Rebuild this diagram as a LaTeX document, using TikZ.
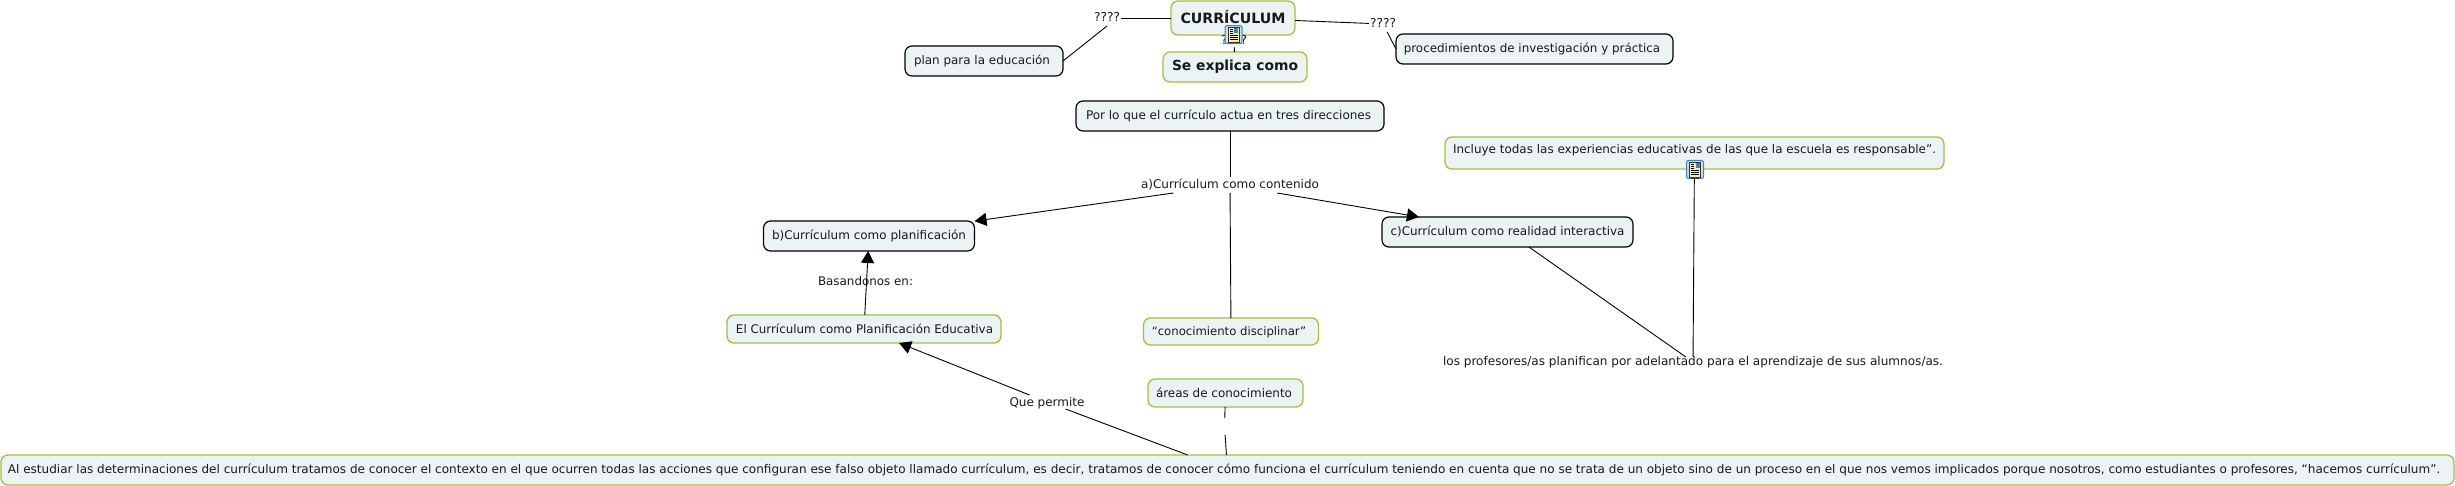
\documentclass[tikz,border=0pt]{standalone}
\usepackage{graphicx}
\usepackage{fontspec}
\setmainfont{DejaVu Sans}
\usetikzlibrary{arrows.meta}
\definecolor{boxfill}{HTML}{ECF3F5}
\definecolor{greenline}{HTML}{A3C13F}
\definecolor{iconblue}{HTML}{3F7FC4}
\definecolor{iconpale}{HTML}{C9DDF2}
\definecolor{noteyellow}{HTML}{F7EFB0}
% text fitted to a measured width, shifted sideways by a small offset, with fixed line extents
\newcommand{\fittext}[3]{\hspace*{#2pt}\raisebox{0pt}[8pt][0pt]{\resizebox{#1pt}{!}{#3}}\hspace*{-#2pt}}
\tikzset{
  x=1pt,y=-1pt,
  basebox/.style={rounded corners=7pt,fill=boxfill,inner sep=0pt,outer sep=0pt,font=\fontsize{12.1}{14}\selectfont,text=black!90},
  greenbox/.style={basebox,draw=greenline,line width=1.3pt},
  blackbox/.style={basebox,draw=black,line width=1.2pt},
  bw/.style n args={2}{minimum width=#1 pt,minimum height=#2 pt},
  linklabel/.style={inner sep=0pt,outer sep=0pt,font=\fontsize{12.1}{14}\selectfont,text=black!90},
  link/.style={draw=black,line width=0.9pt},
  arrowlink/.style={link,-{Triangle[length=12pt,width=13pt]}},
  pics/noteicon/.style={code={
    \draw[draw=iconblue,fill=iconpale,line width=1pt,rounded corners=2pt] (-8.5,-9) rectangle (8.5,9);
    \draw[draw=black!80,fill=noteyellow,line width=0.7pt] (-5.5,-7.5) rectangle (5.5,7.5);
    \fill[iconblue] (0.5,-6.5) rectangle (4.5,-1.5);
    \foreach \yy in {0.5,2.5,4.5}{\draw[black,line width=0.6pt] (-4,\yy) -- (4,\yy);}
    \foreach \yy in {-5.5,-3.5,-1.5}{\draw[black,line width=0.6pt] (-4,\yy) -- (-1,\yy);}
  }}
}
\begin{document}
\begin{tikzpicture}
\useasboundingbox (0,0) rectangle (2455,486);
% boxes
\node[greenbox,bw={124}{34},font=\bfseries] (curr) at (1233,18) {\raisebox{-1.5pt}[8pt][0pt]{\fittext{105}{0}{CURRÍCULUM}}};
\node[greenbox,bw={144}{30},font=\bfseries] (se) at (1235,67) {\fittext{126}{0}{Se explica como}};
\node[blackbox,bw={158}{30}] (plan) at (984,61) {\fittext{136}{-2}{plan para la educación}};
\node[blackbox,bw={277}{30}] (proc) at (1534.5,49) {\fittext{256.5}{-2.5}{procedimientos de investigación y práctica}};
\node[blackbox,bw={308}{30}] (por) at (1230,116) {\fittext{285}{-1.5}{Por lo que el currículo actua en tres direcciones}};
\node[blackbox,bw={211}{30}] (bcur) at (869,236) {\fittext{194}{0}{b)Currículum como planificación}};
\node[blackbox,bw={251}{30}] (ccur) at (1507.5,232) {\fittext{234}{0}{c)Currículum como realidad interactiva}};
\node[greenbox,bw={274}{28}] (elcur) at (864,329) {\fittext{257}{0.5}{El Currículum como Planificación Educativa}};
\node[greenbox,bw={175}{27}] (cono) at (1231,331.5) {\fittext{154.5}{-2}{“conocimiento disciplinar”}};
\node[greenbox,bw={155}{28}] (areas) at (1225.5,393) {\fittext{136}{-1.5}{áreas de conocimiento}};
\node[greenbox,bw={499}{32}] (incl) at (1694.5,153) {\raisebox{3pt}[8pt][0pt]{\fittext{483}{0}{Incluye todas las experiencias educativas de las que la escuela es responsable”.}}};
\node[greenbox,bw={2453}{30}] (big) at (1227.5,470) {\raisebox{0.5pt}[8pt][0pt]{\fittext{2432}{-3.5}{Al estudiar las determinaciones del currículum tratamos de conocer el contexto en el que ocurren todas las acciones que configuran ese falso objeto llamado currículum, es decir, tratamos de conocer cómo funciona el currículum teniendo en cuenta que no se trata de un objeto sino de un proceso en el que nos vemos implicados porque nosotros, como estudiantes o profesores, “hacemos currículum”.}}};
% link labels
\node[linklabel,minimum width=28pt,minimum height=16pt] (ql) at (1107,18) {\fittext{26}{0}{????}};
\node[linklabel,minimum width=28pt,minimum height=16pt] (qr) at (1383,24) {\fittext{26}{0}{????}};
\node[linklabel,minimum width=28pt,minimum height=12pt] (qc) at (1234,41) {\fittext{26}{0}{????}};
\node[linklabel,minimum width=178pt,minimum height=16pt] (acur) at (1230,185) {\fittext{178}{0}{a)Currículum como contenido}};
\node[linklabel,minimum width=90pt,minimum height=14pt] (que) at (1047,402) {\fittext{75}{0}{Que permite}};
\node[linklabel,minimum width=500pt,minimum height=10pt] (los) at (1693,362) {\fittext{500}{0}{los profesores/as planifican por adelantado para el aprendizaje de sus alumnos/as.}};
\node[inner sep=0pt,outer sep=0pt,minimum width=20pt,minimum height=17pt] (gap) at (1224.5,426.5) {};
% connectors
\draw[link] (ql) -- (curr);
\draw[link] (plan.east) -- (ql.south);
\draw[link] (curr) -- (qr);
\draw[link] (qr) -- (proc.west);
\draw[link] (curr) -- (qc);
\draw[link] (qc) -- (se);
\draw[link] (por) -- (acur);
\draw[link] (acur) -- (cono);
\draw[arrowlink] (acur) -- (bcur);
\draw[arrowlink] (acur) -- (ccur);
\draw[arrowlink] (elcur) -- (bcur);
\draw[arrowlink] (que) -- (elcur);
\draw[link] (big) -- (que);
\draw[link] (areas) -- (gap);
\draw[link] (gap) -- (big);
\draw[link] (ccur) -- (los);
\draw[link] (incl) -- (los);
% label over its line
\node[linklabel] (bas) at (865.5,282) {\fittext{95}{0}{Basandonos en:}};
% icons
\pic at (1233.5,34.7) {noteicon};
\pic at (1695,169.5) {noteicon};
\fill[black!75] (1691,177.5) rectangle (1699,179.5);
\end{tikzpicture}
\end{document}
